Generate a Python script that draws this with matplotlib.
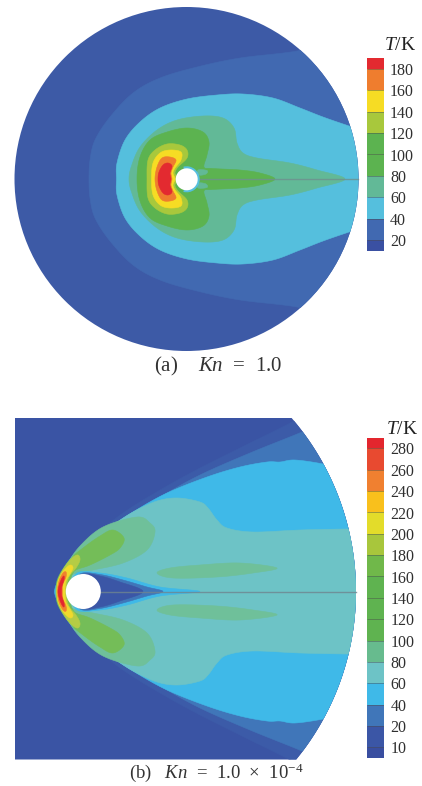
import numpy as np
import matplotlib
matplotlib.use("Agg")
import matplotlib.pyplot as plt
from matplotlib.patches import Circle, Wedge, Polygon

plt.rcParams['font.family'] = ['Liberation Serif', 'DejaVu Serif']
plt.rcParams['mathtext.fontset'] = 'custom'
plt.rcParams['mathtext.rm'] = 'Liberation Serif'
plt.rcParams['mathtext.it'] = 'Liberation Serif:italic'

# ---- colour bar levels ----
levels_a = [20, 40, 60, 80, 100, 120, 140, 160, 180]
colors_a = ['#3a50a2', '#4169b1', '#55bfdd', '#62b997', '#5cb350', '#5cb350',
            '#a8c83c', '#f6dc24', '#ef7d2e', '#e32a30']
levels_b = [10, 20, 40, 60, 80, 100, 120, 140, 160, 180, 200, 220, 240, 260, 280]
colors_b = ['#394ea0', '#3b56a6', '#4076b9', '#3fb9e8', '#6dc3c6', '#67bb8e',
            '#5fb350', '#5fb350', '#5fb350', '#70b84a', '#a8c63c', '#e3dc2a',
            '#f9c01c', '#f08030', '#e84a30', '#e3262e']

# ---- contour outlines of panel (a): upper half, left axis point to right ----
a_axis_y = 179.0
a_t20 = [(89, 179), (90, 160), (95, 140), (110, 117), (133, 93), (160, 78), (197, 67),
         (240, 58), (297, 51), (340, 40), (385, 30), (385, 179)]
a_t40 = [(116.5, 179), (117, 163), (125, 140), (140, 122), (160, 108), (187, 99),
         (217, 95), (243, 94), (273, 98), (300, 108), (323, 117), (349, 126), (385, 138),
         (385, 179)]
a_t60 = [(129, 179), (131.5, 166), (140, 147), (157, 130), (177, 120), (203, 116),
         (223, 118), (234, 128), (237, 143), (243, 153), (257, 158), (290, 163),
         (317, 170), (345, 179)]
a_t80 = [(137, 179), (140, 157), (150, 140), (167, 132), (187, 128), (203, 132),
         (209, 142), (207, 155), (204, 167), (212, 168.5), (240, 170), (260, 173), (275, 179)]
a_t120 = [(147, 179), (148, 160), (155, 150), (167, 144), (180, 145), (187, 150),
          (187, 158), (178, 167), (175, 173), (178, 179)]
a_t140 = [(151.5, 179), (153, 163), (160, 153), (170, 150), (181, 152), (181, 160),
          (175, 168), (173, 173), (175, 179)]
a_t160 = [(155, 179), (157, 167), (162, 158), (170, 157), (176, 160), (173, 167),
          (171, 173), (172, 179)]
a_t180 = [(158, 179), (159, 172), (163, 165), (168, 163), (172, 166), (170, 173), (171, 179)]
a_pocket = [(198, 170), (207, 170.5), (206, 174), (199, 175)]

# ---- contour outlines of panel (b) ----
b_axis_y = 591.5
b_t10 = [(54, 591.5), (56.7, 580), (61.7, 570), (73, 555), (93, 537), (123, 513), (160, 490),
         (200, 468), (250, 443), (292, 422), (330, 400), (385, 370), (385, 591.5)]
b_t20 = [(54.3, 591.5), (56, 587), (63, 570), (77, 553), (100, 535), (127, 517), (160, 497),
         (200, 475), (250, 453), (302, 432), (340, 415), (385, 395), (385, 591.5)]
b_t40 = [(54.7, 591.5), (57, 583), (65, 568), (78, 552), (103, 532), (133, 512), (167, 493),
         (207, 477), (240, 467), (267, 462), (280, 462), (295, 460), (323, 464), (345, 470),
         (385, 480), (385, 591.5)]
b_t60 = [(55.7, 591.5), (57.5, 583), (63, 570), (72, 557), (87, 543), (110, 527), (133, 512),
         (157, 501), (178, 498), (200, 502), (208, 508), (217, 520), (227, 528), (253, 532),
         (300, 530), (348, 529), (385, 529), (385, 591.5)]
b_t80 = [(66, 575), (67, 565), (80, 546), (103, 527), (137, 517), (150, 523), (155, 532),
         (147, 550), (123, 563), (93, 570), (77, 573), (68, 576)]
b_t100 = [(68, 573), (72, 558), (83, 548), (100, 536), (113, 530), (124, 538), (120, 548),
          (110, 555), (90, 565), (78, 569)]
b_wake80 = [(157, 573), (170, 568), (200, 565), (240, 563), (277, 568), (253, 573),
            (217, 577), (173, 578)]
b_nose100 = [(56, 591.5), (58, 578), (68, 562), (75, 557), (80, 562), (72, 575), (68, 591.5)]
b_nose180 = [(56.5, 591.5), (58, 580), (64, 568), (72, 558), (78, 555), (80, 560), (76, 568),
             (70, 575), (67, 583), (66.5, 591.5)]
b_nose200 = [(57, 591.5), (58, 582), (62, 573), (67, 567), (71, 565), (73, 568), (70, 574),
             (66, 581), (65, 591.5)]
b_nose240 = [(57.5, 591.5), (59, 581), (63, 573), (66, 572), (66, 577), (63, 584), (62.5, 591.5)]
b_nose280 = [(58, 591.5), (59.5, 584), (62, 578), (64, 576), (64, 580), (62, 586), (61.5, 591.5)]
b_wake60 = [(72, 591.5), (77, 573), (100, 573), (127, 578), (160, 587), (200, 591.5)]
b_wake40 = [(72, 591.5), (80, 574), (100, 574.5), (123, 580), (147, 587), (163, 591.5)]
b_wake20 = [(72, 591.5), (83, 575), (100, 576), (120, 582), (143, 591.5)]

fig = plt.figure(figsize=(4.22, 7.86), dpi=100)
ax = fig.add_axes([0, 0, 1, 1])
ax.set_xlim(0, 422)
ax.set_ylim(786, 0)
ax.axis('off')


def smooth(p, n=10):
    # closed Catmull-Rom curve through the outline points
    p = np.asarray(p, float)
    p0, p1, p2, p3 = np.roll(p, 1, axis=0), p, np.roll(p, -1, axis=0), np.roll(p, -2, axis=0)
    out = []
    for t in np.linspace(0, 1, n, endpoint=False):
        out.append(0.5 * (2 * p1 + (p2 - p0) * t + (2 * p0 - 5 * p1 + 4 * p2 - p3) * t ** 2
                          + (3 * p1 - p0 - 3 * p2 + p3) * t ** 3))
    return np.stack(out, axis=1).reshape(-1, 2)


def mirror(top, y0):
    t = np.asarray(top, float)
    m = t[::-1].copy()
    m[:, 1] = 2 * y0 - m[:, 1]
    if abs(t[0, 1] - y0) < 1e-6:
        m = m[:-1]
    if abs(t[-1, 1] - y0) < 1e-6:
        m = m[1:]
    return np.vstack([t, m])


def blob(top, y0, color, clip, z):
    pa = Polygon(smooth(mirror(top, y0)), closed=True, fc=color, ec=color, lw=0.4, zorder=z)
    ax.add_patch(pa)
    pa.set_clip_path(clip)


def island(pts, y0, color, clip, z):
    for s in (1, -1):
        p = np.asarray(pts, float).copy()
        if s < 0:
            p[:, 1] = 2 * y0 - p[:, 1]
        pa = Polygon(smooth(p), closed=True, fc=color, ec=color, lw=0.4, zorder=z)
        ax.add_patch(pa)
        pa.set_clip_path(clip)


# ---- panel (a) ----
dom_a = Circle((186.5, 179), 172, fc='#3d5aa6', ec='none', zorder=1)
ax.add_patch(dom_a)
bands_a = [(a_t20, colors_a[1]), (a_t40, colors_a[2]), (a_t60, colors_a[3]), (a_t80, colors_a[4]),
           (a_t120, colors_a[6]), (a_t140, colors_a[7]), (a_t160, colors_a[8]), (a_t180, colors_a[9])]
for i, (c, col) in enumerate(bands_a):
    blob(c, a_axis_y, col, dom_a, 2 + i)
island(a_pocket, a_axis_y, colors_a[3], dom_a, 11)
ax.plot([198, 358], [a_axis_y, a_axis_y], color='#6f8f8f', lw=1.0, alpha=0.8, zorder=12)
ax.add_patch(Wedge((186.7, 179.3), 13, -105, 105, width=2.5, fc=colors_a[2], ec='none', zorder=13))
ax.add_patch(Circle((186.7, 179.3), 11, fc='white', ec='none', zorder=14))

# ---- panel (b) ----
cx_b, r_b = 90.0, 266.0
th1 = np.arcsin((b_axis_y - 418.0) / r_b)
th2 = np.arcsin((759.5 - b_axis_y) / r_b)
th = np.linspace(th1, -th2, 200)
outline = np.vstack([[(15, 418)],
                     np.column_stack([cx_b + r_b * np.cos(th), b_axis_y - r_b * np.sin(th)]),
                     [(15, 759.5)]])
dom_b = Polygon(outline, closed=True, fc='#3a54a4', ec='none', zorder=1)
ax.add_patch(dom_b)
for i, (c, col) in enumerate([(b_t10, '#3c5ba8'), (b_t20, colors_b[2]), (b_t40, colors_b[3]),
                              (b_t60, colors_b[4])]):
    blob(c, b_axis_y, col, dom_b, 2 + i)
island(b_t80, b_axis_y, '#6fc09a', dom_b, 7)
island(b_t100, b_axis_y, '#74bd58', dom_b, 8)
island(b_wake80, b_axis_y, '#6fc09a', dom_b, 7)
for i, (c, col) in enumerate([(b_wake60, colors_b[3]), (b_wake40, colors_b[2]), (b_wake20, colors_b[1]),
                              (b_nose100, '#74bd58'), (b_nose180, '#b5cc45'), (b_nose200, '#f0d92c'),
                              (b_nose240, '#f0802e'), (b_nose280, '#e3262e')]):
    blob(c, b_axis_y, col, dom_b, 9 + i)
ax.plot([100, 356], [b_axis_y, b_axis_y], color='#6f8590', lw=1.0, alpha=0.8, zorder=18)
ax.add_patch(Circle((83.3, b_axis_y), 17.5, fc='white', ec='none', zorder=19))


# ---- colour bars ----
def colorbar(levels, colors, left, top, bottom, right, title_x, title_y):
    W, H = 422.0, 786.0
    cax = fig.add_axes([left / W, 1 - bottom / H, (right - left) / W, (bottom - top) / H])
    n = len(levels)
    edges = np.concatenate([[-0.5], np.arange(n), [n - 0.5]])
    cax.bar(np.zeros(n + 1), np.diff(edges), bottom=edges[:-1], width=1.0, color=colors)
    cax.hlines(np.arange(n), -0.5, 0.5, color='#4a4a4a', lw=0.7, alpha=0.45)
    cax.set_xlim(-0.5, 0.5)
    cax.set_ylim(-0.5, n - 0.5)
    cax.axis('off')
    for i, lv in enumerate(levels):
        cax.annotate(str(lv), (0.5, i), xytext=(4.3, -1.5), textcoords='offset points',
                     ha='left', va='center', fontsize=11.5, color='#2f2f2f', annotation_clip=False)
    ax.text(title_x, title_y, r'$\mathit{T}$/K', ha='center', va='center', fontsize=14, color='#222222')


colorbar(levels_a, colors_a, 367, 58.3, 250.7, 384, 400, 45)
colorbar(levels_b, colors_b, 367, 437.7, 758, 384.3, 402, 429)

# ---- captions ----
ax.text(218, 366, r'(a)    $\mathit{Kn}$  =  1.0', ha='center', va='center', fontsize=15, color='#333333')
ax.text(216.5, 773, r'(b)   $\mathit{Kn}$  =  1.0  ×  10$^{-4}$', ha='center', va='center', fontsize=13.5,
        color='#333333')

fig.savefig('out.png', dpi=100, facecolor='white')
